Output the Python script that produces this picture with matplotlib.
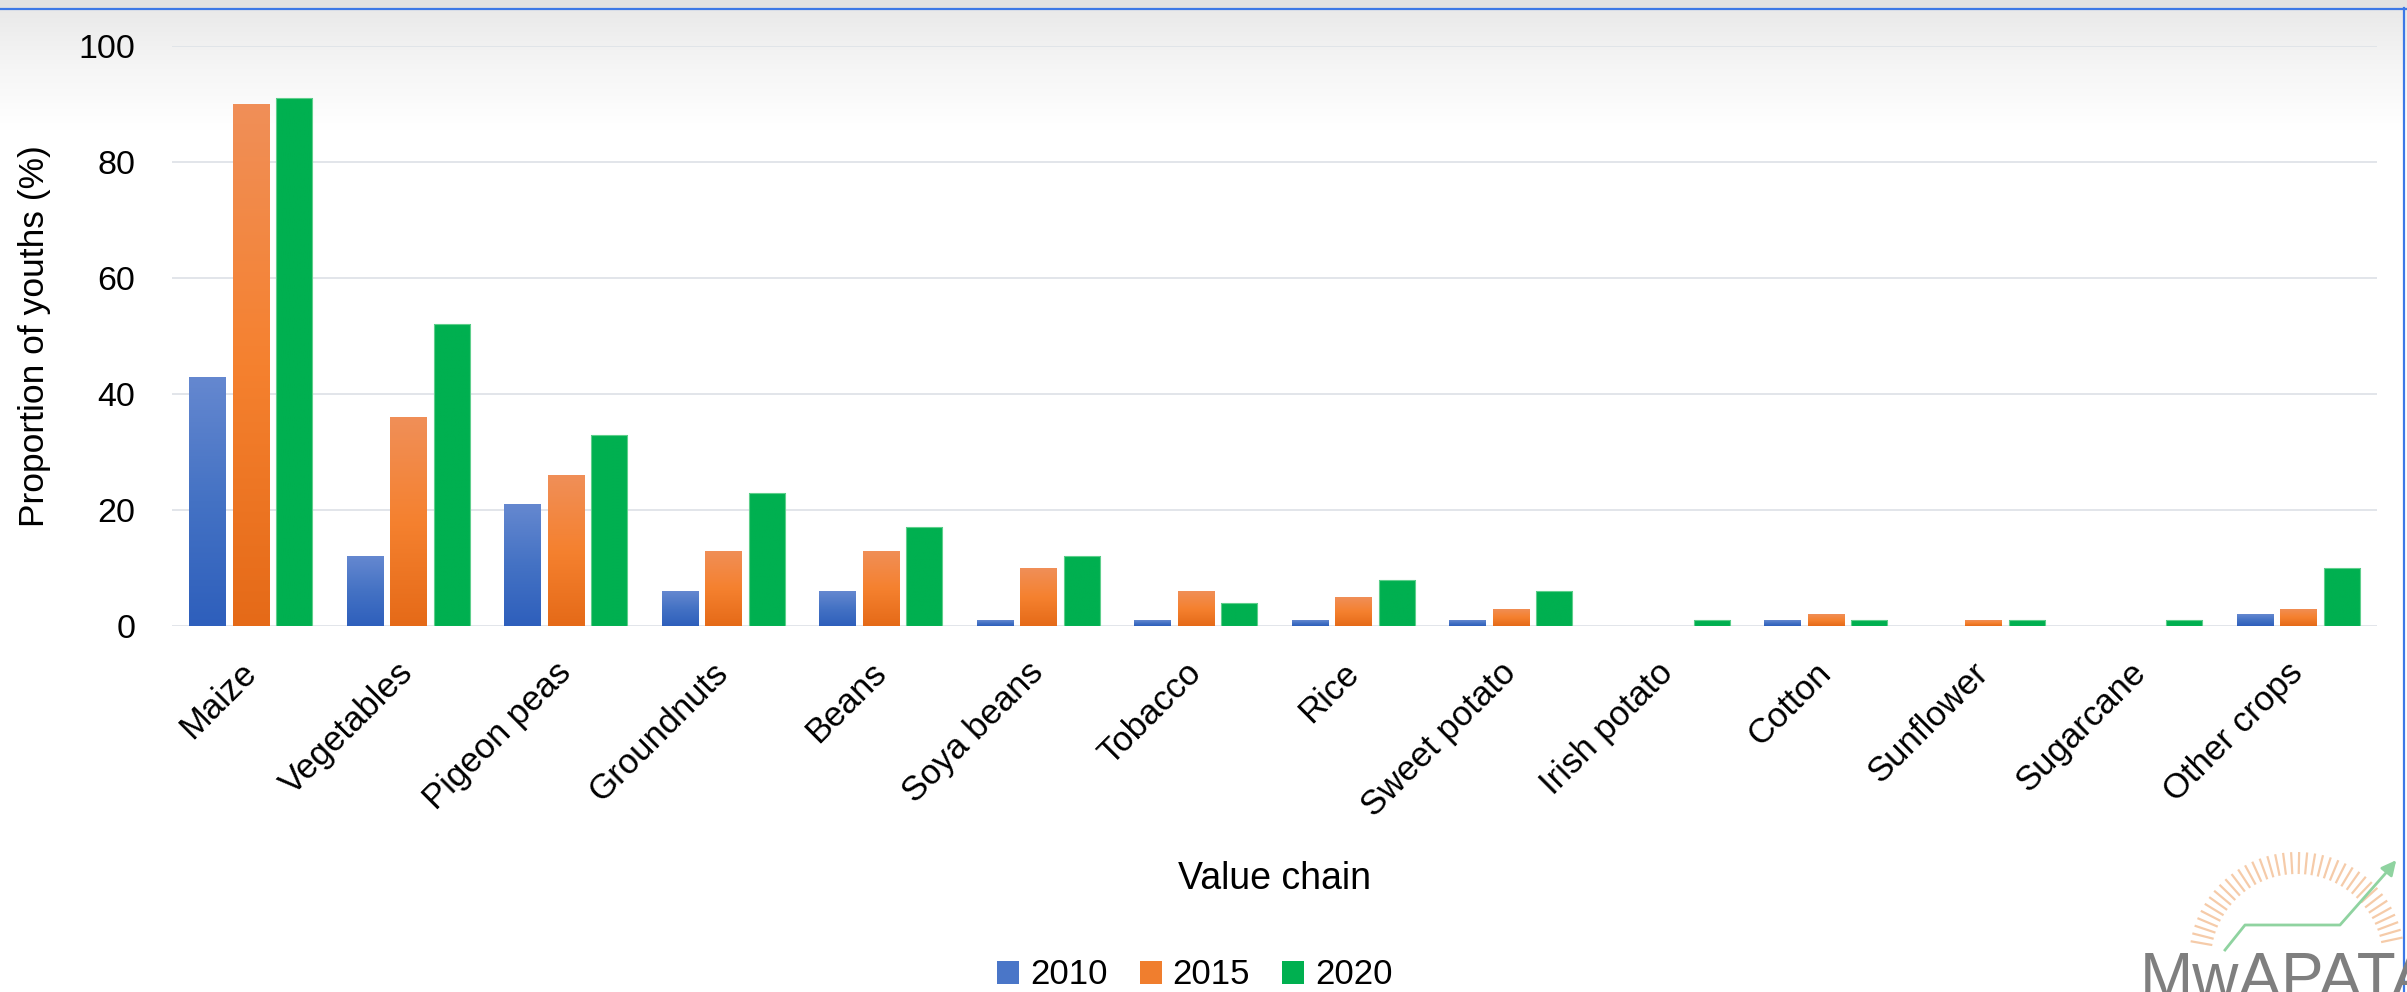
import numpy as np
import matplotlib
matplotlib.use("Agg")
import matplotlib.pyplot as plt
from matplotlib.colors import LinearSegmentedColormap
from matplotlib.patches import Patch, Rectangle

plt.rcParams['font.family'] = ['Liberation Sans', 'DejaVu Sans']

crops = ["Maize", "Vegetables", "Pigeon peas", "Groundnuts", "Beans", "Soya beans",
         "Tobacco", "Rice", "Sweet potato", "Irish potato", "Cotton", "Sunflower",
         "Sugarcane", "Other crops"]
years = ["2010", "2015", "2020"]
y2010 = [43, 12, 21, 6, 6, 1, 1, 1, 1, 0, 1, 0, 0, 2]
y2015 = [90, 36, 26, 13, 13, 10, 6, 5, 3, 0, 2, 1, 0, 3]
y2020 = [91, 52, 33, 23, 17, 12, 4, 8, 6, 1, 1, 1, 1, 10]

W, H = 2407, 992
fig = plt.figure(figsize=(W / 100, H / 100), dpi=100)
fig.patch.set_facecolor("white")

# background layer in pixel coordinates (y pointing down)
bg = fig.add_axes([0, 0, 1, 1])
bg.set_xlim(0, W)
bg.set_ylim(H, 0)
bg.axis("off")
fade = np.linspace(0, 1, 200).reshape(-1, 1)
fade_cmap = LinearSegmentedColormap.from_list("fade", ["#e9e9e9", "#f6f6f6", "#ffffff"])
bg.imshow(fade, cmap=fade_cmap, extent=[0, W, 130, 8], aspect="auto", interpolation="bilinear")
bg.add_patch(Rectangle((0, 0), W, 8, color="#e2e2e2", lw=0))
bg.plot([0, W], [8.5, 8.5], color="#3c78e6", lw=1.6)
bg.plot([2404, 2404], [8, H], color="#3c78e6", lw=1.6)

# logo in the lower right corner
cx, cy = 2297, 960
for a in np.linspace(np.radians(12), np.radians(170), 38):
    bg.plot([cx + 86 * np.cos(a), cx + 108 * np.cos(a)],
            [cy - 86 * np.sin(a), cy - 108 * np.sin(a)],
            color="#f4c29a", lw=1.6, alpha=0.85, solid_capstyle="butt")
bg.plot([2225, 2245, 2340, 2392], [950, 925, 925, 866], color="#8fd3a0", lw=2)
bg.annotate("", xy=(2398, 858), xytext=(2385, 874),
            arrowprops=dict(arrowstyle="-|>", color="#8fd3a0", lw=2, mutation_scale=22))
bg.text(2140, 998, "MwAPATA", fontsize=46, color="#7f7f7f", ha="left", va="baseline")

ax = fig.add_axes([172 / W, 1 - 626 / H, (2377 - 172) / W, (626 - 46) / H])
ax.patch.set_alpha(0)

grads = [
    LinearSegmentedColormap.from_list("b", ["#6588d0", "#4472c4", "#2e5fbc"]),
    LinearSegmentedColormap.from_list("o", ["#f08f58", "#f5812f", "#e56a18"]),
    LinearSegmentedColormap.from_list("g", ["#00b050", "#00b050"]),
]
swatch = ["#4a76c8", "#f07e2e", "#00b050"]

x = np.arange(len(crops))
step, width = 0.276, 0.229
ramp = np.linspace(0, 1, 256).reshape(-1, 1)
for k, vals in enumerate([y2010, y2015, y2020]):
    bars = ax.bar(x + (k - 1) * step, vals, width, color="none", lw=0, zorder=2)
    for b, v in zip(bars, vals):
        if v <= 0:
            continue
        x0 = b.get_x()
        im = ax.imshow(ramp, cmap=grads[k], extent=[x0, x0 + width, 0, v],
                       aspect="auto", interpolation="bilinear", zorder=2)
        im.set_clip_path(b)
        if k == 2:
            ax.add_patch(Rectangle((x0, 0), width, v, fill=False,
                                   ec="#5fcf8c", lw=0.8, zorder=3))

ax.set_xlim(-0.5, len(crops) - 0.5)
ax.set_ylim(0, 100)
ax.set_yticks([0, 20, 40, 60, 80, 100])
ax.grid(axis="y", color="#dfe3e8", lw=1.3)
ax.set_axisbelow(True)
for s in ax.spines.values():
    s.set_visible(False)
ax.tick_params(axis="y", length=0, pad=26.5, labelsize=24.5)
ax.tick_params(axis="x", length=0, pad=30, labelsize=25)
ax.set_xticks(x)
ax.set_xticklabels(crops, rotation=45, ha="right", va="center", rotation_mode="anchor")

fig.text(35 / W, 1 - 336 / H, "Proportion of youths (%)", rotation=90,
         ha="center", va="center", fontsize=25.5)
fig.text(1275 / W, 1 - 879 / H, "Value chain", ha="center", va="center", fontsize=27)

handles = [Patch(facecolor=c, lw=0) for c in swatch]
fig.legend(handles, years, loc="center", bbox_to_anchor=(1195 / W, 1 - 975 / H),
           ncol=3, frameon=False, fontsize=25, handlelength=0.63, handleheight=0.63,
           handletextpad=0.32, columnspacing=0.92, borderpad=0)

fig.savefig("out.png", dpi=100)
